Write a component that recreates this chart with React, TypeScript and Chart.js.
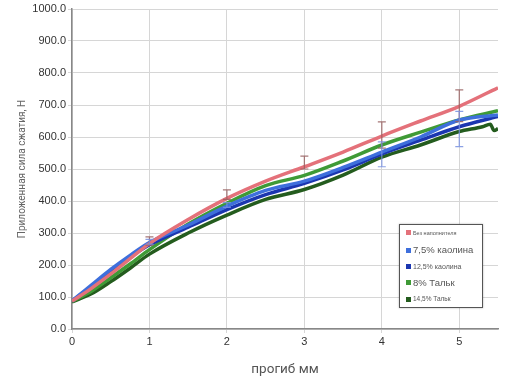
import React, { useEffect, useRef } from "react";
import { Chart, registerables } from "chart.js";

Chart.register(...registerables);

// deflection (mm)
const xValues = [0, 0.25, 0.5, 0.75, 1, 1.5, 2, 2.5, 3, 3.5, 4, 4.5, 5, 5.5];
const xValuesDarkGreen = [0, 0.25, 0.5, 0.75, 1, 1.5, 2, 2.5, 3, 3.5, 4, 4.5, 5, 5.3, 5.4, 5.45, 5.5];

const seriesNames = ["Без наполнителя", "7,5% каолина", "12,5% каолина", "8% Тальк", "14,5% Тальк"];
const seriesColors = ["#e4717a", "#3e6fdc", "#1b36b0", "#3f9a36", "#245c1e"];

const redValues = [87, 127, 172, 220, 267, 342, 408, 462, 507, 553, 603, 650, 696, 754];
const blueValues = [88, 137, 186, 230, 270, 325, 384, 433, 462, 505, 553, 600, 653, 669];
const darkBlueValues = [87, 133, 180, 224, 263, 318, 373, 420, 455, 497, 547, 590, 632, 664];
const greenValues = [86, 118, 160, 203, 248, 328, 393, 448, 480, 525, 575, 615, 653, 682];
const darkGreenValues = [85, 110, 148, 190, 234, 300, 356, 405, 436, 481, 537, 575, 617, 632, 640, 620, 626];

// error bars
const redErrX = [1, 2, 3, 4, 5];
const redErrLow = [262, 405, 500, 565, 648];
const redErrHigh = [288, 435, 540, 647, 747];
const blueErrX = [1, 2, 4, 5];
const blueErrLow = [265, 380, 507, 570];
const blueErrHigh = [280, 395, 585, 680];

const yTicksMax = 1000;
const xMax = 5.5;

const legendFontSizes = [5.5, 9.5, 7, 9.5, 6.5];
const legendRowCenters = [8.7, 26, 42.7, 58.7, 75.3];

function toPoints(xs: number[], ys: number[]) {
  return ys.map((y, i) => ({ x: xs[i], y }));
}

const errorBarPlugin = {
  id: "errorBars",
  afterDatasetsDraw(chart: any) {
    const ctx = chart.ctx;
    const xs = chart.scales.x;
    const ys = chart.scales.y;
    const sets = [
      { x: redErrX, lo: redErrLow, hi: redErrHigh, color: "rgba(150,95,95,0.85)" },
      { x: blueErrX, lo: blueErrLow, hi: blueErrHigh, color: "rgba(120,145,225,0.85)" },
    ];
    ctx.save();
    ctx.lineWidth = 1.2;
    for (const s of sets) {
      ctx.strokeStyle = s.color;
      s.x.forEach((xv, i) => {
        const px = xs.getPixelForValue(xv);
        const p1 = ys.getPixelForValue(s.lo[i]);
        const p2 = ys.getPixelForValue(s.hi[i]);
        ctx.beginPath();
        ctx.moveTo(px, p1);
        ctx.lineTo(px, p2);
        ctx.moveTo(px - 4, p1);
        ctx.lineTo(px + 4, p1);
        ctx.moveTo(px - 4, p2);
        ctx.lineTo(px + 4, p2);
        ctx.stroke();
      });
    }
    ctx.restore();
  },
};

export default function App() {
  const ref = useRef<HTMLCanvasElement | null>(null);

  useEffect(() => {
    if (!ref.current) return;
    const allValues = [redValues, blueValues, darkBlueValues, greenValues, darkGreenValues];
    const allX = [xValues, xValues, xValues, xValues, xValuesDarkGreen];
    const chart = new Chart(ref.current, {
      type: "line",
      data: {
        datasets: allValues.map((vals, i) => ({
          label: seriesNames[i],
          data: toPoints(allX[i], vals),
          borderColor: seriesColors[i],
          backgroundColor: seriesColors[i],
          borderWidth: 3.5,
          pointRadius: 0,
          cubicInterpolationMode: "monotone" as const,
          fill: false,
        })),
      },
      options: {
        animation: false,
        responsive: false,
        maintainAspectRatio: false,
        layout: { padding: { left: 0, top: 9, right: 17, bottom: 0 } },
        plugins: {
          legend: { display: false },
          tooltip: { enabled: false },
        },
        scales: {
          x: {
            type: "linear",
            min: 0,
            max: xMax,
            afterBuildTicks: (scale: any) => {
              scale.ticks = scale.ticks.filter((t: any) => Number.isInteger(t.value));
            },
            afterFit: (scale: any) => {
              scale.height = 53;
            },
            ticks: {
              stepSize: 1,
              color: "#333",
              font: { family: "Liberation Sans", size: 11 },
              padding: 2,
              maxRotation: 0,
            },
            grid: { color: "#d6d6d6", tickLength: 4, lineWidth: 1 },
            border: { color: "#888", width: 1.5 },
            title: {
              display: true,
              text: "прогиб мм",
              color: "#555",
              font: { family: "Roboto", size: 13.5 },
              padding: { top: 10 },
            },
          },
          y: {
            type: "linear",
            min: 0,
            max: yTicksMax,
            afterFit: (scale: any) => {
              scale.width = 72;
            },
            ticks: {
              stepSize: 100,
              color: "#333",
              font: { family: "Liberation Sans", size: 11 },
              padding: 2,
              callback: (v: any) => Number(v).toFixed(1),
            },
            grid: { color: "#d6d6d6", tickLength: 4, lineWidth: 1 },
            border: { color: "#888", width: 1.5 },
            title: {
              display: true,
              text: "Приложенная сила сжатия, Н",
              color: "#666",
              font: { family: "Roboto", size: 10 },
              padding: { top: 16, bottom: 4 },
            },
          },
        },
      },
      plugins: [errorBarPlugin],
    });
    return () => chart.destroy();
  }, []);

  return (
    <div style={{ position: "absolute", left: 0, top: 0, width: 515, height: 382, background: "#fff" }}>
      <canvas ref={ref} width={515} height={382} style={{ display: "block" }} />
      <div
        style={{
          position: "absolute",
          left: 399,
          top: 224,
          width: 82,
          height: 82,
          border: "1px solid #555",
          background: "#fff",
          boxShadow: "0 0 2px rgba(0,0,0,0.3)",
          fontFamily: "Liberation Sans, Arial, sans-serif",
          color: "#555",
        }}
      >
        {seriesNames.map((name, i) => (
          <div
            key={name}
            style={{
              position: "absolute",
              left: 6,
              top: legendRowCenters[i] - 7,
              height: 12,
              display: "flex",
              alignItems: "center",
              whiteSpace: "nowrap",
            }}
          >
            <span
              style={{
                display: "inline-block",
                width: 5,
                height: 5,
                background: seriesColors[i],
                marginRight: 2,
              }}
            />
            <span style={{ fontSize: legendFontSizes[i], lineHeight: "12px" }}>{name}</span>
          </div>
        ))}
      </div>
    </div>
  );
}
